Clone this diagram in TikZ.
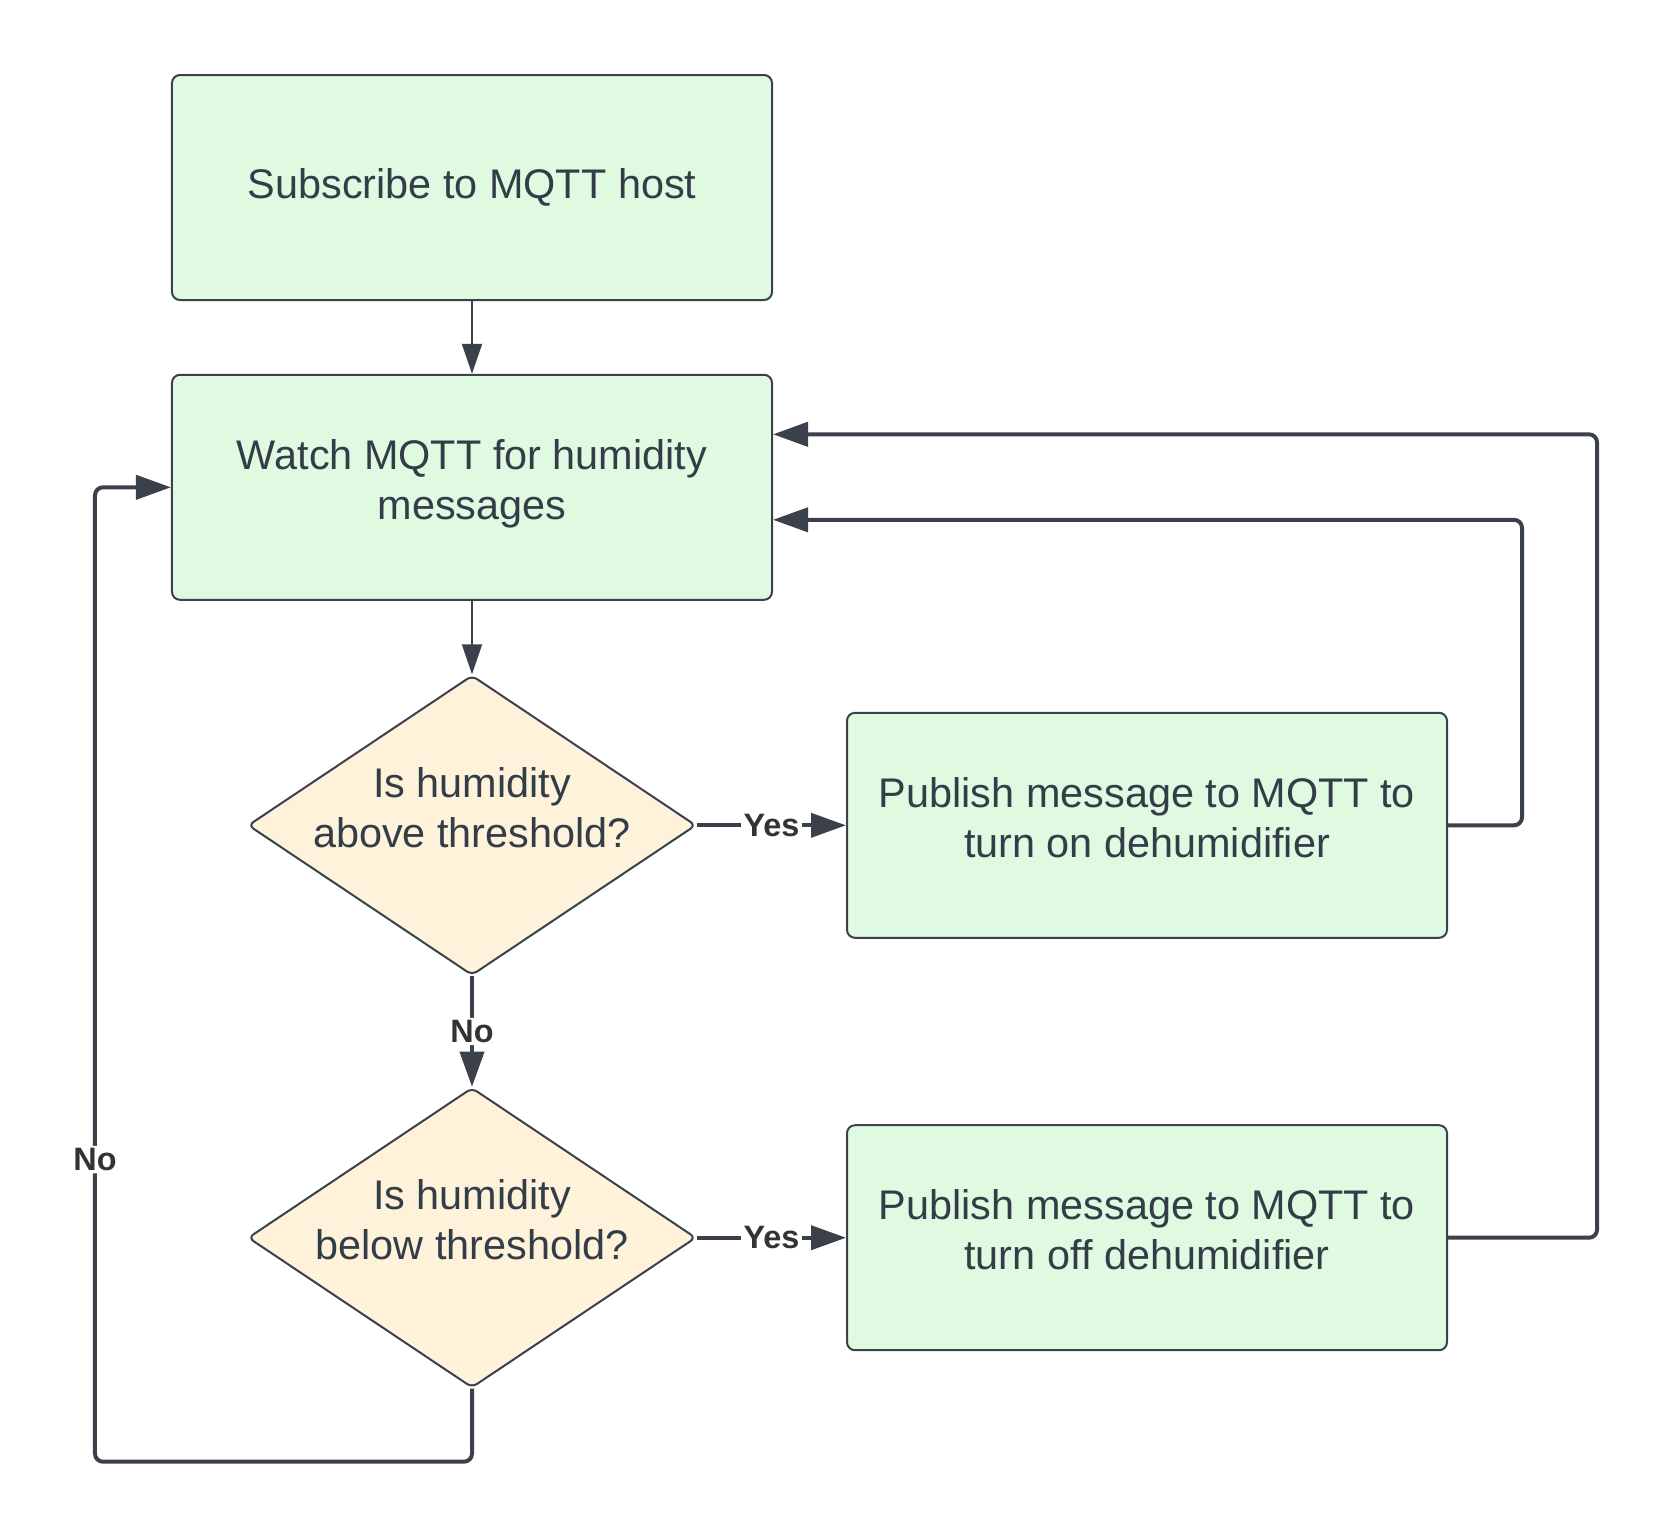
\documentclass[tikz,border=0pt]{standalone}
\usepackage{fontspec}
\setmainfont{Liberation Sans}
\usetikzlibrary{arrows.meta}
\usetikzlibrary{positioning}
\usetikzlibrary{shapes.geometric}
\definecolor{boxgreen}{HTML}{E0F9E1}
\definecolor{diafill}{HTML}{FEF2DA}
\definecolor{edgegray}{HTML}{3A414A}
\definecolor{txtgray}{HTML}{333D47}
\tikzset{>={Triangle[length=15pt,width=10pt]}}

\begin{document}
\begin{tikzpicture}[
        node distance=36.4pt and 74.5pt,
        every node/.style={font=\fontsize{20.7}{25}\selectfont,text=txtgray,align=center},
        stepbox/.style={draw=edgegray,line width=1pt,fill=boxgreen,rounded corners=4pt,minimum width=300pt,minimum height=112.5pt,text depth=8pt},
        query/.style={diamond,draw=edgegray,line width=1pt,fill=diafill,rounded corners=3pt,minimum width=224pt,minimum height=150pt,inner sep=0pt,shape aspect=1.5},
        lbl/.style={font=\fontsize{16.2}{19}\selectfont\bfseries,text=black!80,fill=white,inner sep=1.2pt},
        feed/.style={draw=edgegray,line width=1pt,->},
        flow/.style={draw=edgegray,line width=2pt,rounded corners=4pt,-{Triangle[length=17.5pt,width=12pt]}}
    ]
    \useasboundingbox (-236pt,93.75pt) rectangle (601pt,-675.25pt);

    \node[stepbox,text depth=4.5pt] (subscribe) at (0,0) {Subscribe to MQTT host};
    \node[stepbox,below=of subscribe] (watch) {Watch MQTT for humidity\\messages};

    \node[query,below=36.75pt of watch,label={[yshift=9pt]center:{Is humidity\\above threshold?}}] (above) {};
    \node[query,below=55.2pt of above,label={[yshift=9pt]center:{Is humidity\\below threshold?}}] (below) {};

    \node[stepbox,right=of above] (turnon) {Publish message to MQTT to\\turn on dehumidifier};
    \node[stepbox,right=of below] (turnoff) {Publish message to MQTT to\\turn off dehumidifier};

    \coordinate[above=26.5pt of watch.east] (offin);
    \coordinate[below=16.25pt of watch.east] (onin);

    \draw[feed] (subscribe) -- (watch);
    \draw[feed] (watch) -- (above);

    \draw[flow] (above) -- node[lbl] {Yes} (turnon);
    \draw[flow] (above) -- node[lbl] {No} (below);
    \draw[flow] (below) -- node[lbl] {Yes} (turnoff);

    % loops back to the watch step
    \draw[flow] (turnon.east) -- ++(37pt,0) |- (onin);
    \draw[flow] (turnoff.east) -- ++(74.5pt,0) |- (offin);
    \draw[flow] (below.south) -- ++(0,-36.5pt) -| node[lbl,pos=0.655] {No} ([xshift=-38pt]watch.west) -- (watch.west);
\end{tikzpicture}
\end{document}
